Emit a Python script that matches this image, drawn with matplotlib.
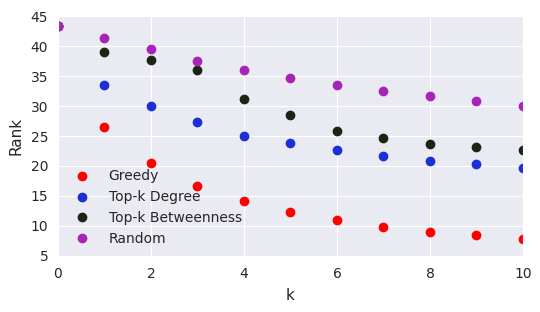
import matplotlib
matplotlib.use("Agg")
import matplotlib.pyplot as plt
import seaborn as sns

# data
k = [0, 1, 2, 3, 4, 5, 6, 7, 8, 9, 10]
greedy = [43.3, 26.5, 20.5, 16.7, 14.2, 12.3, 11.0, 9.8, 9.0, 8.5, 7.8]
degree = [43.3, 33.5, 30.0, 27.3, 25.0, 23.8, 22.7, 21.7, 20.8, 20.3, 19.7]
betweenness = [43.3, 39.0, 37.7, 36.0, 31.2, 28.5, 25.8, 24.7, 23.7, 23.2, 22.7]
random_sel = [43.3, 41.3, 39.5, 37.5, 36.0, 34.7, 33.5, 32.5, 31.7, 30.8, 30.0]

sns.set_style("darkgrid")
plt.rcParams["font.family"] = ["DejaVu Sans"]

fig = plt.figure(figsize=(5.4, 3.12), dpi=100)
ax = fig.add_axes([0.1074, 0.1795, 0.8611, 0.7692])

series = [
    ("Greedy", greedy, "#ff0000"),
    ("Top-k Degree", degree, "#1c2fd6"),
    ("Top-k Betweenness", betweenness, "#1a2612"),
    ("Random", random_sel, "#a824b8"),
]
for label, vals, color in series:
    ax.plot(k, vals, "o", color=color, markersize=6, label=label)

ax.set_xlim(0, 10)
ax.set_ylim(5, 45)
ax.set_xticks(range(0, 11, 2))
ax.set_yticks(range(5, 46, 5))
ax.tick_params(labelsize=10, length=0)
ax.tick_params(axis="x", pad=8)
ax.tick_params(axis="y", pad=7)
ax.set_xlabel("k", fontsize=11, labelpad=5)
ax.set_ylabel("Rank", fontsize=11, labelpad=5)

ax.legend(loc="lower left", frameon=False, fontsize=10,
          handletextpad=0.95, labelspacing=0.5, borderaxespad=0.3)

fig.savefig("out.png", dpi=100)
